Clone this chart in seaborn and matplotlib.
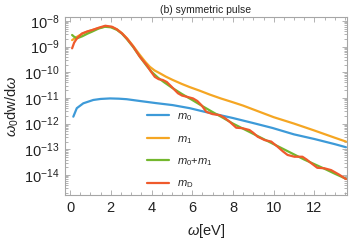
import numpy as np
import pandas as pd
import seaborn as sns
from matplotlib import pyplot as plt
from matplotlib.ticker import LogLocator, MultipleLocator, NullFormatter

# values (omega in eV, log10 of w0 dw/dw)
w_m0 = [0.16, 0.33, 0.65, 1.14, 1.5, 1.96, 2.4, 2.78, 3.43, 4.2, 5.04, 5.88,
        6.61, 7.3, 7.98, 9.0, 9.94, 11.0, 12.0, 13.0, 13.55]
lg_m0 = [-11.73, -11.40, -11.21, -11.08, -11.04, -11.02, -11.03, -11.05, -11.12,
         -11.2, -11.28, -11.40, -11.54, -11.66, -11.78, -11.98, -12.17, -12.42,
         -12.6, -12.8, -12.92]

w_m1 = [0.1, 0.34, 0.6, 0.85, 1.08, 1.4, 1.73, 2.06, 2.3, 2.55, 2.8, 3.1, 3.43,
        3.7, 3.92, 4.15, 4.41, 4.7, 5.04, 5.5, 5.88, 6.37, 6.86, 7.4, 8.0, 8.5,
        9.0, 9.5, 10.0, 11.0, 12.0, 13.0, 13.55]
lg_m1 = [-8.75, -8.62, -8.5, -8.42, -8.36, -8.28, -8.22, -8.24, -8.33, -8.48,
         -8.68, -8.98, -9.33, -9.6, -9.79, -9.93, -10.04, -10.17, -10.30, -10.46,
         -10.58, -10.72, -10.87, -11.02, -11.17, -11.3, -11.45, -11.6, -11.75,
         -12.0, -12.27, -12.55, -12.7]

w_sum = [0.1, 0.2, 0.34, 0.6, 0.85, 1.08, 1.4, 1.71, 2.0, 2.3, 2.55, 2.8, 3.1,
         3.43, 3.76, 4.0, 4.3, 4.6, 5.0, 5.5, 6.0, 6.5, 7.0, 7.5, 8.0, 8.5, 9.0,
         9.5, 10.0, 10.5, 11.0, 11.5, 12.0, 12.5, 13.0, 13.55]
lg_sum = [-8.55, -8.62, -8.68, -8.6, -8.5, -8.42, -8.3, -8.23, -8.25, -8.35,
          -8.5, -8.72, -9.02, -9.40, -9.75, -9.98, -10.2, -10.38, -10.6, -10.85,
          -11.08, -11.32, -11.55, -11.77, -12.0, -12.2, -12.4, -12.6, -12.8,
          -13.0, -13.2, -13.4, -13.58, -13.76, -13.95, -14.15]

w_mD = [0.1, 0.2, 0.34, 0.59, 0.85, 1.08, 1.4, 1.73, 2.06, 2.3, 2.55, 2.8, 3.1,
        3.43, 3.76, 3.95, 4.16, 4.35, 4.55, 4.75, 4.98, 5.15, 5.30, 5.5, 5.71,
        6.04, 6.25, 6.45, 6.69, 7.0, 7.35, 7.6, 7.84, 8.16, 8.47, 8.81, 9.0,
        9.21, 9.55, 9.88, 10.19, 10.45, 10.68, 11.02, 11.41, 11.62, 11.84,
        12.14, 12.49, 12.82, 13.2, 13.55]
lg_mD = [-9.07, -8.85, -8.68, -8.49, -8.41, -8.36, -8.27, -8.19, -8.23, -8.33,
         -8.49, -8.7, -9.0, -9.40, -9.72, -9.95, -10.18, -10.27, -10.30, -10.38,
         -10.56, -10.70, -10.82, -10.91, -10.95, -11.02, -11.12, -11.28, -11.54,
         -11.63, -11.67, -11.78, -11.93, -12.16, -12.18, -12.25, -12.36, -12.51,
         -12.64, -12.70, -12.90, -13.08, -13.22, -13.29, -13.29, -13.40, -13.54,
         -13.72, -13.74, -13.81, -13.98, -14.16]

labels = [r'$m_\mathrm{0}$', r'$m_\mathrm{1}$',
          r'$m_\mathrm{0}$+$m_\mathrm{1}$', r'$m_\mathrm{D}$']
colors = ['#3d9ad8', '#f5a623', '#74b72e', '#ef5a2c']

frames = []
for lab, w, lg in zip(labels, [w_m0, w_m1, w_sum, w_mD],
                      [lg_m0, lg_m1, lg_sum, lg_mD]):
    frames.append(pd.DataFrame({'omega': w, 'val': 10.0 ** np.array(lg), 'curve': lab}))
df = pd.concat(frames, ignore_index=True)

sns.set_style('ticks')
plt.rcParams['font.family'] = ['Liberation Sans', 'DejaVu Sans']
plt.rcParams['mathtext.fontset'] = 'custom'
plt.rcParams['mathtext.rm'] = 'Liberation Sans'
plt.rcParams['mathtext.it'] = 'Liberation Sans:italic'
plt.rcParams['mathtext.bf'] = 'Liberation Sans:bold'

fig = plt.figure(figsize=(3.57, 2.43), dpi=100)
ax = fig.add_axes([0.182, 0.1975, 0.79, 0.7325])

sns.lineplot(data=df, x='omega', y='val', hue='curve', hue_order=labels,
             palette=dict(zip(labels, colors)), sort=False, estimator=None,
             linewidth=1.6, ax=ax)

ax.set_yscale('log')
ax.set_xlim(-0.25, 13.6)
ax.set_ylim(10 ** -14.78, 10 ** -7.85)

ax.xaxis.set_major_locator(MultipleLocator(2))
ax.xaxis.set_minor_locator(MultipleLocator(0.5))
ax.yaxis.set_major_locator(LogLocator(base=10, numticks=20))
ax.yaxis.set_minor_locator(LogLocator(base=10, subs=np.arange(2, 10), numticks=20))
ax.yaxis.set_minor_formatter(NullFormatter())

for s in ax.spines.values():
    s.set_color('#a6a6a6')
    s.set_linewidth(0.8)
ax.tick_params(which='both', direction='in', top=True, right=True,
               color='#a6a6a6', width=0.6, labelsize=10.5, labelcolor='#222222')
ax.tick_params(which='major', length=3.5, pad=4)
ax.tick_params(which='minor', length=2)

ax.set_xlabel(r'$\omega$[eV]', fontsize=10.5, labelpad=5, color='#222222')
ax.set_ylabel(r'$\omega_\mathrm{0}$dw/d$\omega$', fontsize=10.5, labelpad=2, color='#222222')
ax.set_title('(b) symmetric pulse', fontsize=7.5, pad=3, color='#222222')

ax.legend(loc='upper left', bbox_to_anchor=(0.29, 0.47), frameon=False,
          fontsize=8, handlelength=2.0, handletextpad=0.7, labelspacing=0.95,
          borderpad=0, borderaxespad=0)

fig.savefig('out.png', dpi=100)
